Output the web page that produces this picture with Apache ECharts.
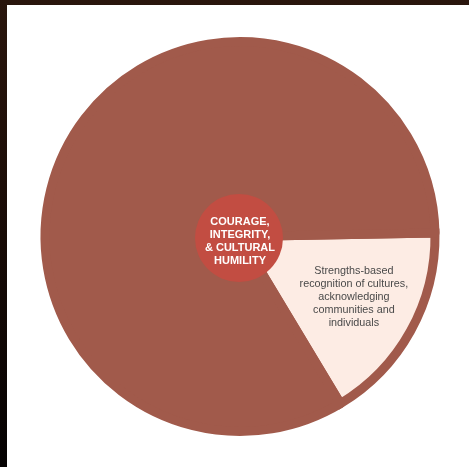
<!DOCTYPE html>
<html>
<head>
<meta charset="utf-8">
<script src="https://cdn.jsdelivr.net/npm/echarts@6/dist/echarts.min.js"></script>
<style>
  html, body { margin: 0; padding: 0; width: 469px; height: 467px; overflow: hidden; }
  body { background: linear-gradient(180deg, #2a160d 0%, #1c0d07 40%, #050202 100%); position: relative; }
  #chart { position: absolute; left: 7px; top: 5px; width: 462px; height: 462px; background: #ffffff; }
</style>
</head>
<body>
<div id="chart"></div>
<script>
// Data
const segmentNames = ['Strengths-based\nrecognition of cultures,\nacknowledging\ncommunities and\nindividuals', 'Other'];
const segmentValues = [1, 5];
const centerLabel = 'COURAGE,\nINTEGRITY,\n& CULTURAL\nHUMILITY';
const centerValue = [1];

const BROWN = '#a15a4b';
const LIGHT = '#fdece4';
const RED = '#c24d42';

const chart = echarts.init(document.getElementById('chart'), null, { renderer: 'canvas' });

const option = {
  animation: false,
  title: {
    text: centerLabel,
    left: 233,
    top: 236,
    padding: 0,
    textAlign: 'center',
    textVerticalAlign: 'middle',
    z: 10,
    textStyle: {
      color: '#ffffff',
      fontWeight: 'bold',
      fontFamily: 'Liberation Sans, Arial, sans-serif',
      fontSize: 11,
      lineHeight: 13
    }
  },
  series: [
    {
      type: 'pie',
      center: [233, 231.5],
      radius: [0, 195],
      startAngle: 1,
      clockwise: true,
      silent: true,
      avoidLabelOverlap: false,
      labelLine: { show: false },
      labelLayout: { dx: 26, dy: 12 },
      data: [
        {
          name: segmentNames[0],
          value: segmentValues[0],
          itemStyle: { color: LIGHT, borderColor: BROWN, borderWidth: 9, borderJoin: 'miter' },
          label: {
            show: true,
            position: 'inside',
            formatter: '{b}',
            color: '#4a4a4a',
            fontFamily: 'Liberation Sans, Arial, sans-serif',
            fontSize: 10.8,
            lineHeight: 13,
            align: 'center'
          }
        },
        {
          name: segmentNames[1],
          value: segmentValues[1],
          itemStyle: { color: BROWN, borderColor: BROWN, borderWidth: 9 },
          label: { show: false }
        }
      ]
    },
    {
      type: 'pie',
      center: [232, 233],
      radius: [0, 44],
      startAngle: 90,
      silent: true,
      labelLine: { show: false },
      label: { show: false },
      data: [
        {
          name: 'center',
          value: centerValue[0],
          itemStyle: { color: RED }
        }
      ]
    }
  ]
};

chart.setOption(option);
</script>
</body>
</html>
